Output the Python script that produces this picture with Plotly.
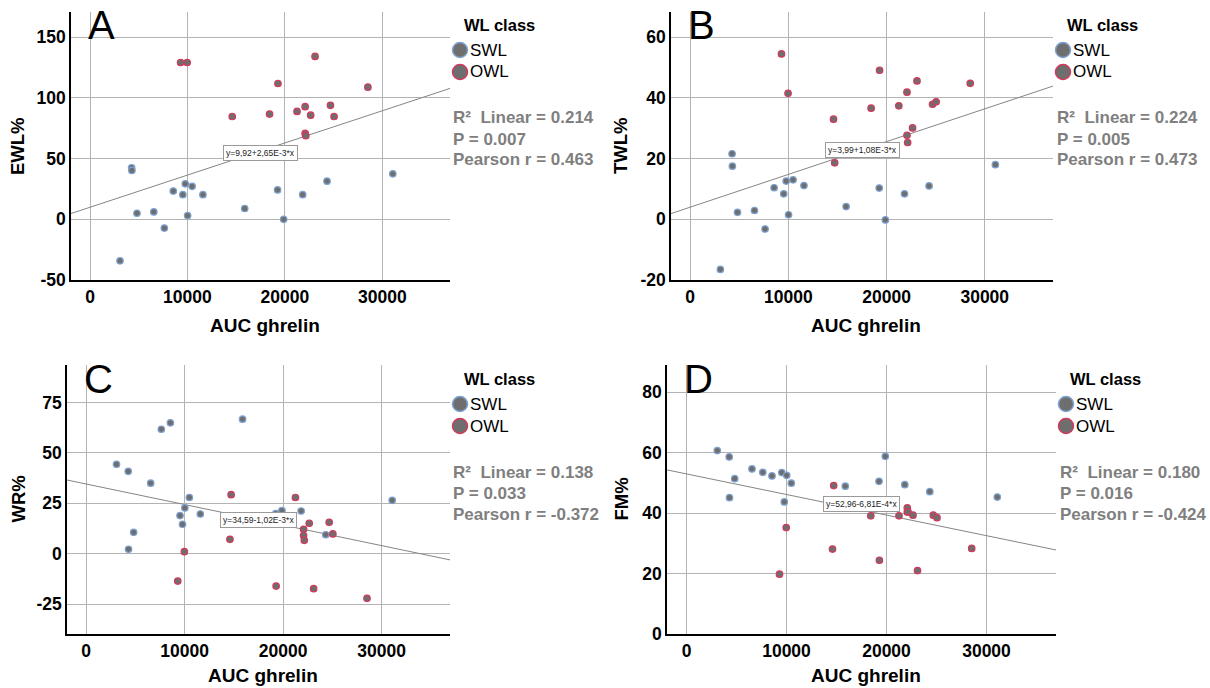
import plotly.graph_objects as go

# ---------------- data ----------------
auc_swl = [3080, 4270, 4300, 4820, 6550, 7630, 8550, 9530, 9780, 10020, 10480, 11590,
           15880, 19250, 19880, 21830, 24330, 31080]
auc_owl = [9300, 9970, 14600, 14720, 18430, 19290, 21250, 22080, 22080, 22150, 22650,
           23100, 24680, 25050, 28520]

ewl_swl = [-34.2, 42.5, 40.3, 5.0, 6.1, -7.2, 23.3, 20.3, 29.2, 3.1, 27.2, 20.3,
           8.9, 24.2, 0.0, 20.3, 31.4, 37.5]
ewl_owl = [129.2, 129.2, 84.7, 55.0, 86.7, 111.9, 88.9, 92.8, 70.8, 68.9, 85.8,
           134.2, 93.9, 84.7, 108.9]

twl_swl = [-16.5, 21.6, 17.5, 2.3, 2.9, -3.2, 10.4, 8.4, 12.6, 1.5, 13.0, 11.1,
           4.2, 10.3, -0.2, 8.4, 11.0, 18.0]
twl_owl = [54.5, 41.5, 33.0, 18.6, 36.6, 49.1, 37.4, 41.9, 27.7, 25.3, 30.1,
           45.6, 37.9, 38.7, 44.8]

wr_swl = [44.4, 40.9, 2.2, 10.6, 35.0, 61.8, 65.0, 18.9, 14.6, 22.7, 27.9, 19.7,
          66.8, 19.9, 21.4, 21.2, 9.4, 26.5]
wr_owl = [-13.6, 1.0, 7.1, 29.3, 16.0, -16.1, 27.9, 12.1, 9.0, 6.6, 15.1,
          -17.4, 15.6, 9.8, -22.2]

fm_swl = [60.7, 58.6, 45.1, 51.4, 54.6, 53.5, 52.3, 53.4, 43.7, 52.5, 49.9, None,
          48.9, 50.5, 58.8, 49.4, 47.1, 45.3]
fm_owl = [19.8, 35.2, 28.1, 49.1, 39.1, 24.4, 39.1, 41.7, 40.4, 40.4, 39.3,
          21.0, 39.3, 38.5, 28.3]

panel_letters = ["A", "B", "C", "D"]
y_titles = ["EWL%", "TWL%", "WR%", "FM%"]
x_title = "AUC ghrelin"
x_ticks = [0, 10000, 20000, 30000]
y_ticks = [[-50, 0, 50, 100, 150], [-20, 0, 20, 40, 60], [-25, 0, 25, 50, 75], [0, 20, 40, 60, 80]]
intercepts = [9.92, 3.99, 34.59, 52.96]
slopes = [2.65e-3, 1.08e-3, -1.02e-3, -6.81e-4]
fit_labels = ["y=9,92+2,65E-3*x", "y=3,99+1,08E-3*x", "y=34,59-1,02E-3*x", "y=52,96-6,81E-4*x"]
r2_values = ["0.214", "0.224", "0.138", "0.180"]
p_values = ["0.007", "0.005", "0.033", "0.016"]
pearson_values = ["0.463", "0.473", "-0.372", "-0.424"]
legend_title = "WL class"
group_names = ["SWL", "OWL"]

series_swl = [ewl_swl, twl_swl, wr_swl, fm_swl]
series_owl = [ewl_owl, twl_owl, wr_owl, fm_owl]

# ---------------- layout geometry (pixels) ----------------
W, H = 1210, 688
FONT = "Arial, Liberation Sans, sans-serif"
GRAY_FILL = "#6e6e6e"
BLUE = "#7ea2d0"
RED = "#d23a5c"
STAT_GRAY = "#7f7f7f"


def px(x):
    return x / W


def py(y):
    return 1 - y / H


geo = [
    dict(xd=(71, 450), yd=(12, 280), yr=(-50, 170.8), ytx=18, legx=452, top=0, statx=451, labely=55.0, xty=325),
    dict(xd=(671, 1053), yd=(12, 280), yr=(-20, 68.3), ytx=621, legx=1055, top=0, statx=1055, labely=22.9, xty=325),
    dict(xd=(67, 450), yd=(365, 634), yr=(-39.9, 93.7), ytx=18, legx=452, top=354, statx=451, labely=16.6, xty=675),
    dict(xd=(667, 1056), yd=(365, 634), yr=(0, 89.0), ytx=621, legx=1058, top=354, statx=1058, labely=42.9, xty=675),
]
x_range = (-1950, 36950)
label_x = 17500

fig = go.Figure()
annotations = []
shapes = []

for i in range(4):
    g = geo[i]
    sfx = "" if i == 0 else str(i + 1)
    xa, ya = "x" + sfx, "y" + sfx

    # regression line
    fig.add_trace(go.Scatter(
        x=list(x_range),
        y=[intercepts[i] + slopes[i] * x_range[0], intercepts[i] + slopes[i] * x_range[1]],
        mode="lines", line=dict(color="#858585", width=1),
        xaxis=xa, yaxis=ya, showlegend=False, hoverinfo="skip"))
    # points
    fig.add_trace(go.Scatter(
        x=auc_swl, y=series_swl[i], mode="markers", name=group_names[0],
        marker=dict(size=6.5, color=GRAY_FILL, line=dict(color=BLUE, width=1.2)),
        xaxis=xa, yaxis=ya, showlegend=False))
    fig.add_trace(go.Scatter(
        x=auc_owl, y=series_owl[i], mode="markers", name=group_names[1],
        marker=dict(size=6.5, color=GRAY_FILL, line=dict(color=RED, width=1.2)),
        xaxis=xa, yaxis=ya, showlegend=False))

    axis_common = dict(showline=True, linecolor="black", linewidth=1.5, mirror=False,
                       showgrid=True, gridcolor="#b3b3b3", gridwidth=1, zeroline=False,
                       automargin=False, ticks="",
                       tickfont=dict(family=FONT, size=17.5, color="black", weight="bold"))
    fig.update_layout(**{
        "xaxis" + sfx: dict(domain=[px(g["xd"][0]), px(g["xd"][1])], range=list(x_range),
                            tickvals=x_ticks, ticktext=[str(v) for v in x_ticks],
                            anchor=ya, **axis_common),
        "yaxis" + sfx: dict(domain=[py(g["yd"][1]), py(g["yd"][0])], range=list(g["yr"]),
                            tickvals=y_ticks[i], ticktext=[str(v) for v in y_ticks[i]],
                            anchor=xa, **axis_common),
    })

    # fit label box
    annotations.append(dict(x=label_x, y=g["labely"], xref=xa, yref=ya, text=fit_labels[i],
                            showarrow=False, font=dict(family=FONT, size=8.5, color="#222222"),
                            bgcolor="white", bordercolor="#9a9a9a", borderwidth=1, borderpad=2))
    # panel letter
    annotations.append(dict(x=px(g["xd"][0] + 15), y=py(g["top"] + 25), xref="paper", yref="paper",
                            text=panel_letters[i], showarrow=False, xanchor="left", yanchor="middle",
                            font=dict(family=FONT, size=40, color="black")))
    # axis titles
    xc = (g["xd"][0] + g["xd"][1]) / 2 + 4
    annotations.append(dict(x=px(xc), y=py(g["xty"]), xref="paper", yref="paper",
                            text=x_title, showarrow=False, xanchor="center", yanchor="middle",
                            font=dict(family=FONT, size=19, color="black", weight="bold")))
    yc = (g["yd"][0] + g["yd"][1]) / 2
    annotations.append(dict(x=px(g["ytx"]), y=py(yc), xref="paper", yref="paper",
                            text=y_titles[i], showarrow=False, textangle=-90,
                            xanchor="center", yanchor="middle",
                            font=dict(family=FONT, size=18.5, color="black", weight="bold")))
    # legend
    lx = g["legx"]
    t = g["top"]
    annotations.append(dict(x=px(lx + 10), y=py(t + 25), xref="paper", yref="paper",
                            text=legend_title, showarrow=False, xanchor="left", yanchor="middle",
                            font=dict(family=FONT, size=16.5, color="black", weight="bold")))
    for k, (nm, col) in enumerate(zip(group_names, [BLUE, RED])):
        cy = t + 50 + 22 * k
        cx = lx + 8
        shapes.append(dict(type="circle", xref="paper", yref="paper",
                           xsizemode="pixel", ysizemode="pixel",
                           xanchor=px(cx), yanchor=py(cy),
                           x0=-7.5, x1=7.5, y0=-7.5, y1=7.5,
                           fillcolor=GRAY_FILL, line=dict(color=col, width=1.5)))
        annotations.append(dict(x=px(cx + 8), y=py(cy), xref="paper", yref="paper",
                                text=nm, showarrow=False, xanchor="left", yanchor="middle",
                                font=dict(family=FONT, size=17, color="black")))
    # stats
    stats = ["R\u00b2\u00a0 Linear = " + r2_values[i], "P = " + p_values[i],
             "Pearson r = " + pearson_values[i]]
    for k, s in enumerate(stats):
        annotations.append(dict(x=px(g["statx"]), y=py(t + 118 + 21 * k), xref="paper", yref="paper",
                                text=s, showarrow=False, xanchor="left", yanchor="middle",
                                font=dict(family=FONT, size=17, color=STAT_GRAY, weight="bold")))

fig.update_layout(width=W, height=H, margin=dict(l=0, r=0, t=0, b=0, autoexpand=False),
                  paper_bgcolor="white", plot_bgcolor="white", showlegend=False,
                  annotations=annotations, shapes=shapes,
                  font=dict(family=FONT))

fig.write_html("out.html", config={"displayModeBar": False},
               post_script="document.body.style.margin='0';document.body.style.padding='0';"
                           "document.body.style.overflow='hidden';")
